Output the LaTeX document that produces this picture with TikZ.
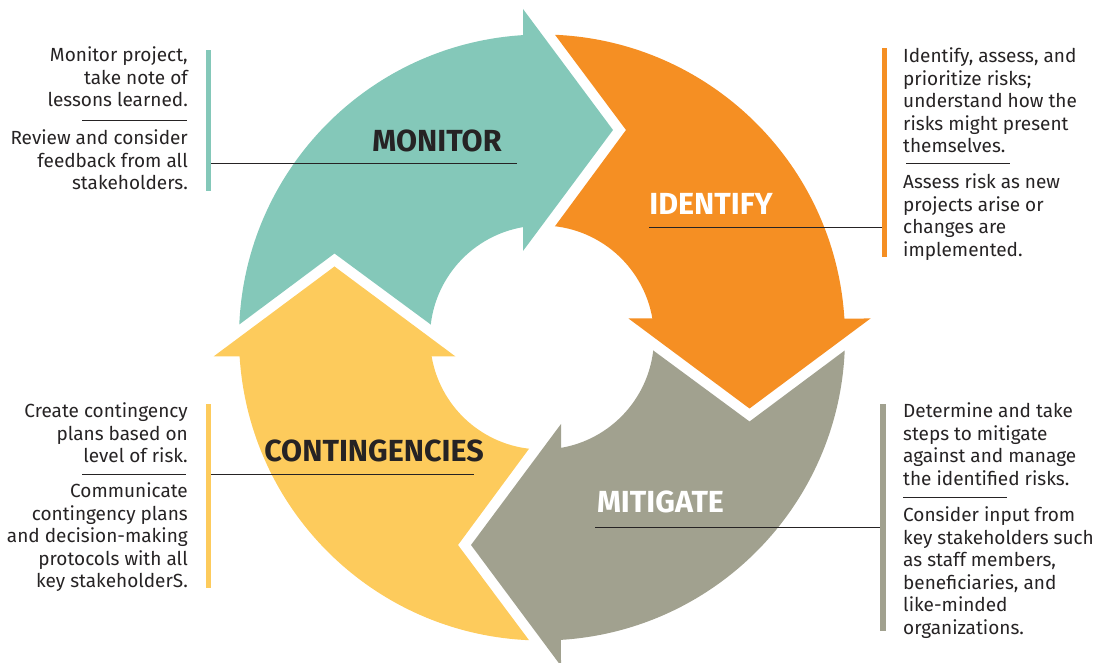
\documentclass[tikz,border=0pt]{standalone}
\usepackage{fontspec}
\setmainfont{Fira Sans}
\definecolor{monitorcol}{RGB}{132,200,185}
\definecolor{identifycol}{RGB}{245,143,35}
\definecolor{mitigatecol}{RGB}{161,161,143}
\definecolor{contcol}{RGB}{253,203,92}
\definecolor{inkcol}{RGB}{38,35,36}
\tikzset{
  body/.style={inner sep=0pt, font=\fontsize{19}{22.5}\selectfont, text=inkcol},
  steplabel/.style={inner sep=0pt, anchor=base, font=\fontsize{30.5}{30}\selectfont\bfseries},
  leader/.style={draw=inkcol, line width=0.9pt},
  sepline/.style={draw=inkcol, line width=0.9pt},
}
\begin{document}
\begin{tikzpicture}[x=1pt, y=1pt]
    \useasboundingbox (0,0) rectangle (1095,663);
    \coordinate (ctr) at (542,325.5);
    % the four curved arrows, one per quadrant
    \foreach \rot/\col in {0/monitorcol, -90/identifycol, 180/mitigatecol, 90/contcol}
        \fill[\col, shift={(ctr)}, rotate=\rot] (177.54:303) arc[start angle=177.54, end angle=93.59, radius=303]
            -- (-19,328.5) -- (71,207.5) -- (-19,86.5) -- (99.77:112) arc[start angle=99.77, end angle=173.35, radius=112]
            -- (-207.5,84) -- cycle;
    % side bars
    \fill[monitorcol] (206,472) rectangle (211,613); \coordinate (mbar) at (211,500);
    \fill[identifycol] (882,406) rectangle (887,615); \coordinate (ibar) at (882,436);
    \fill[contcol] (206,75) rectangle (211,259); \coordinate (cbar) at (211,189);
    \fill[mitigatecol] (880,32) rectangle (886,259); \coordinate (gbar) at (880,136);
    % step names
    \node[steplabel, text=inkcol] (monitor) at (437,511) {MONITOR};
    \node[steplabel, text=white] (identify) at (711,448) {IDENTIFY};
    \node[steplabel, text=inkcol] (cont) at (374,201) {CONTINGENCIES};
    \node[steplabel, text=white] (mitigate) at (660.5,150) {MITIGATE};
    \coordinate (mend) at (517,500); \coordinate (iend) at (649,436);
    \coordinate (cend) at (474,189); \coordinate (gend) at (595,136);
    \draw[leader] (mbar) -- (mend); \draw[leader] (iend) -- (ibar);
    \draw[leader] (cbar) -- (cend); \draw[leader] (gend) -- (gbar);
    % notes beside the bars (base = last line)
    \node[body, align=right, anchor=base east] (m1) at (188,556) {Monitor project,\\take note of\\lessons learned.};
    \node[body, align=right, anchor=base east] (m2) at (188,473) {Review and consider\\feedback from all\\stakeholders.};
    \node[body, align=left, anchor=base west] (i1) at (903,510) {Identify, assess, and\\prioritize risks;\\understand how the\\risks might present\\themselves.};
    \node[body, align=left, anchor=base west] (i2) at (903,406.5) {Assess risk as new\\projects arise or\\changes are\\implemented.};
    \node[body, align=right, anchor=base east] (c1) at (188,200) {Create contingency\\plans based on\\level of risk.};
    \node[body, align=right, anchor=base east] (c2) at (188,75) {Communicate\\contingency plans\\and decision-making\\protocols with all\\key stakeholderS.};
    \node[body, align=left, anchor=base west] (g1) at (903,177.5) {Determine and take\\steps to mitigate\\against and manage\\the identified risks.};
    \node[body, align=left, anchor=base west] (g2) at (903,28.5) {Consider input from\\key stakeholders such\\as staff members,\\beneficiaries, and\\like-minded\\organizations.};
    \draw[sepline] (82,543) -- (187,543); \draw[sepline] (906,500) -- (1010,500);
    \draw[sepline] (82,189) -- (186,189); \draw[sepline] (903,166) -- (1007,166);
\end{tikzpicture}
\end{document}
